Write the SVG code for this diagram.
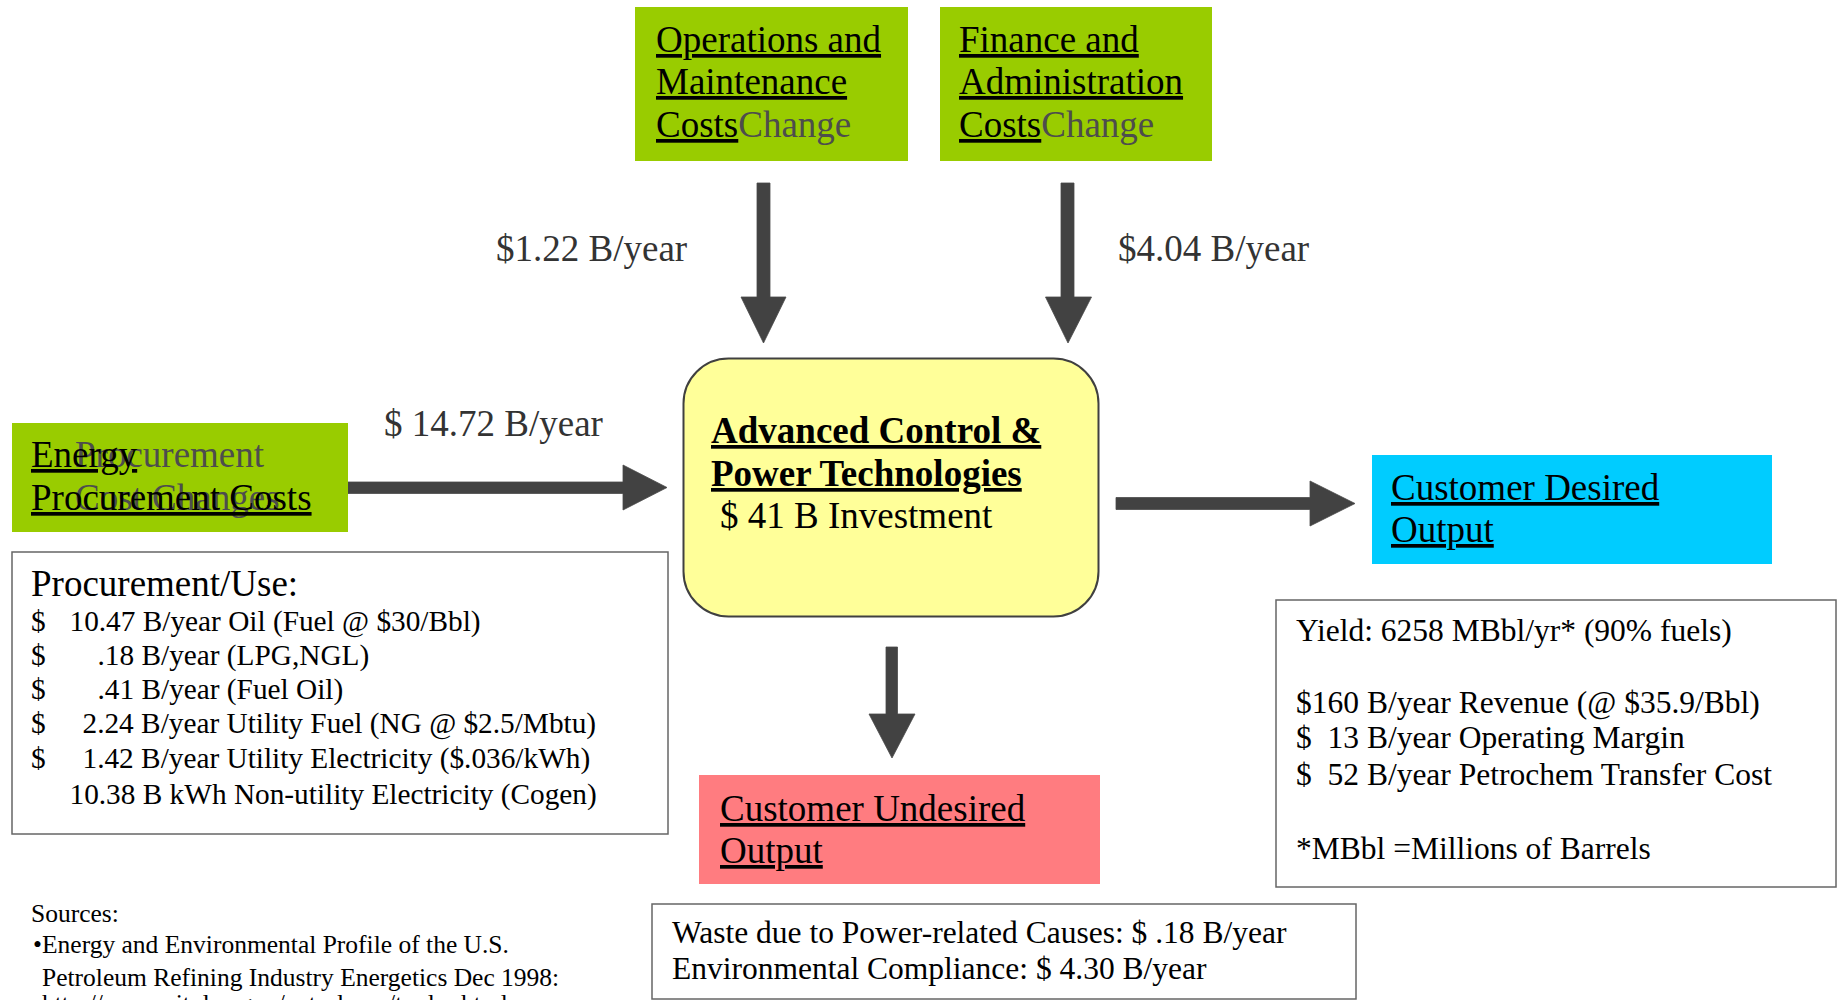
<svg xmlns="http://www.w3.org/2000/svg" width="1839" height="1000" viewBox="0 0 1839 1000">
<style>
  text { font-family: "Liberation Serif", "Times New Roman", serif; fill: #000; }
  .t37 { font-size: 37px; }
  .b37 { font-size: 37px; font-weight: bold; }
  .u { text-decoration: underline; }
  .ghost { fill: #4d4d4d; }
  .lbl { font-size: 37px; fill: #333; }
  .list { font-size: 29.3px; }
  .info { font-size: 31.5px; white-space: pre; }
  .src { font-size: 25.5px; }
  .green { fill: #99cc00; }
  .panel { fill: #fff; stroke: #666; stroke-width: 1.5; }
  .arr { fill: #424242; stroke: #4a4a4a; stroke-width: 0.8; }
</style>

<g id="connectors">
  <polygon class="arr" points="757,183 770,183 770,297 786,297 763.5,343 741,297 757,297"/>
  <polygon class="arr" points="1061,183 1074,183 1074,297 1091.5,297 1068,343 1045.5,297 1061,297"/>
  <polygon class="arr" points="348,482 623,482 623,465 667,487.5 623,510 623,493.5 348,493.5"/>
  <polygon class="arr" points="1116,497.5 1310,497.5 1310,481 1355,503.5 1310,526 1310,509.5 1116,509.5"/>
  <polygon class="arr" points="886,647 897.5,647 897.5,714 915,714 892,758 869,714 886,714"/>
</g>

<g id="labels">
  <text class="lbl" x="496" y="261">$1.22 B/year</text>
  <text class="lbl" x="1118" y="261">$4.04 B/year</text>
  <text class="lbl" x="384" y="436">$ 14.72 B/year</text>
</g>

<g id="node-om">
  <rect class="green" x="635" y="7" width="273" height="154"/>
  <text class="t37" x="656" y="52"><tspan class="u">Operations and</tspan></text>
  <text class="t37" x="656" y="94"><tspan class="u">Maintenance</tspan></text>
  <text class="t37" x="656" y="137"><tspan class="u">Costs</tspan><tspan class="ghost">Change</tspan></text>
</g>

<g id="node-fa">
  <rect class="green" x="940" y="7" width="272" height="154"/>
  <text class="t37" x="959" y="52"><tspan class="u">Finance and</tspan></text>
  <text class="t37" x="959" y="94"><tspan class="u">Administration</tspan></text>
  <text class="t37" x="959" y="137"><tspan class="u">Costs</tspan><tspan class="ghost">Change</tspan></text>
</g>

<g id="node-energy">
  <rect class="green" x="12" y="423" width="336" height="109"/>
  <text class="t37 ghost" x="75" y="467">Procurement</text>
  <text class="t37 ghost" x="75" y="510">Cost Changes</text>
  <text class="t37" x="31" y="467"><tspan class="u">Energy</tspan></text>
  <text class="t37" x="31" y="510"><tspan class="u">Procurement Costs</tspan></text>
</g>

<g id="node-procurement-use">
  <rect class="panel" x="12" y="552" width="656" height="282"/>
  <text class="t37" x="31" y="596">Procurement/Use:</text>
  <text class="list" x="31" y="631">$</text>
  <text class="list" x="69.5" y="631">10.47 B/year Oil (Fuel @ $30/Bbl)</text>
  <text class="list" x="31" y="665">$</text>
  <text class="list" x="97.5" y="665">.18 B/year (LPG,NGL)</text>
  <text class="list" x="31" y="699">$</text>
  <text class="list" x="97.5" y="699">.41 B/year (Fuel Oil)</text>
  <text class="list" x="31" y="733">$</text>
  <text class="list" x="82.5" y="733">2.24 B/year Utility Fuel (NG @ $2.5/Mbtu)</text>
  <text class="list" x="31" y="767.5">$</text>
  <text class="list" x="82.5" y="767.5">1.42 B/year Utility Electricity ($.036/kWh)</text>
  <text class="list" x="69.5" y="804">10.38 B kWh Non-utility Electricity (Cogen)</text>
</g>

<g id="node-center">
  <rect x="683.5" y="358.5" width="415" height="258" rx="45" ry="45" fill="#ffff99" stroke="#404040" stroke-width="2"/>
  <text class="b37" x="711" y="443"><tspan class="u">Advanced Control &amp;</tspan></text>
  <text class="b37" x="711" y="486"><tspan class="u">Power Technologies</tspan></text>
  <text class="t37" x="720" y="528">$ 41 B Investment</text>
</g>

<g id="node-desired">
  <rect x="1372" y="455" width="400" height="109" fill="#00ccff"/>
  <text class="t37" x="1391" y="500"><tspan class="u">Customer Desired</tspan></text>
  <text class="t37" x="1391" y="542"><tspan class="u">Output</tspan></text>
</g>

<g id="node-yield">
  <rect class="panel" x="1276" y="600" width="560" height="287"/>
  <text class="info" x="1296" y="641">Yield: 6258 MBbl/yr* (90% fuels)</text>
  <text class="info" x="1296" y="713">$160 B/year Revenue (@ $35.9/Bbl)</text>
  <text class="info" x="1296" y="748">$  13 B/year Operating Margin</text>
  <text class="info" x="1296" y="785">$  52 B/year Petrochem Transfer Cost</text>
  <text class="info" x="1296" y="859">*MBbl =Millions of Barrels</text>
</g>

<g id="node-undesired">
  <rect x="699" y="775" width="401" height="109" fill="#ff7c80"/>
  <text class="t37" x="720" y="821"><tspan class="u">Customer Undesired</tspan></text>
  <text class="t37" x="720" y="863"><tspan class="u">Output</tspan></text>
</g>

<g id="node-waste">
  <rect class="panel" x="652" y="904" width="704" height="95"/>
  <text class="info" x="672" y="943">Waste due to Power-related Causes: $ .18 B/year</text>
  <text class="info" x="672" y="979">Environmental Compliance: $ 4.30 B/year</text>
</g>

<g id="sources">
  <text class="src" x="31" y="922">Sources:</text>
  <text class="src" x="33" y="953">•</text>
  <text class="src" x="42" y="953">Energy and Environmental Profile of the U.S.</text>
  <text class="src" x="42" y="986">Petroleum Refining Industry Energetics Dec 1998:</text>
  <text class="src" x="42" y="1012">http://www.oit.doe.gov/petroleum/tools.shtml</text>
</g>
</svg>
